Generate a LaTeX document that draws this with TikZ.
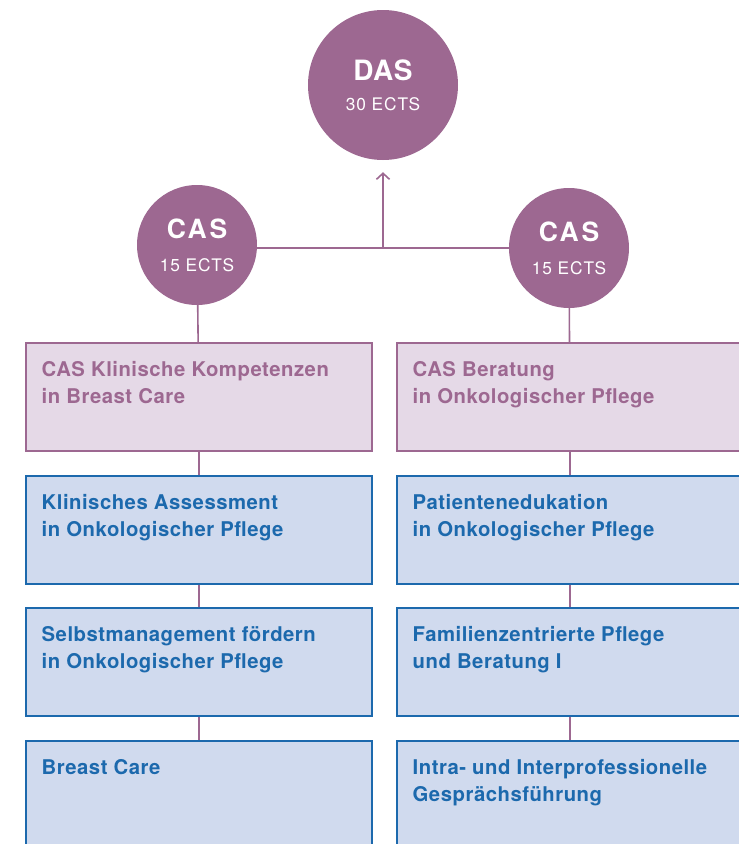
\documentclass[tikz,border=0pt]{standalone}
\usepackage{fontspec}
\setmainfont{TeX Gyre Heros}
\usetikzlibrary{positioning,arrows.meta}

\definecolor{casviolet}{HTML}{9D6891}
\definecolor{casrose}{HTML}{E5D9E7}
\definecolor{casblue}{HTML}{1C69AD}
\definecolor{modblue}{HTML}{D0DAEE}

\tikzset{
    ring/.style={circle, fill=casviolet, text=white, align=center, inner sep=0pt,
        font=\fontsize{17.3}{30}\selectfont\addfontfeature{LetterSpace=5}},
    link/.style={draw=casviolet, line width=1.6pt},
    box/.style={anchor=north west, line width=1.6pt, minimum width=346pt, minimum height=108pt},
    casbox/.style={box, draw=casviolet, fill=casrose},
    modbox/.style={box, draw=casblue, fill=modblue},
    boxtext/.style={anchor=north west, align=left, inner sep=0pt, xshift=16.5pt, yshift=-19.5pt,
        font=\bfseries\fontsize{20.3}{27}\selectfont\addfontfeature{LetterSpace=2.5}},
}

\begin{document}
\begin{tikzpicture}[x=1pt,y=-1pt]
    \useasboundingbox (0,0) rectangle (739,844);
    \clip (0,0) rectangle (739,844);

    % degree and certificates
    \node[ring, minimum size=150pt] (das) at (383,85) {{\bfseries\fontsize{28}{30}\selectfont\addfontfeature{LetterSpace=2} DAS}\\30 ECTS};
    \node[ring, minimum size=120pt, font=\fontsize{17.3}{33}\selectfont\addfontfeature{LetterSpace=5}] (casL) at (197,245) {{\bfseries\fontsize{26.5}{33}\selectfont\addfontfeature{LetterSpace=10} CAS}\\15 ECTS};
    \node[ring, minimum size=120pt, font=\fontsize{17.3}{33}\selectfont\addfontfeature{LetterSpace=5}] (casR) at (569,248) {{\bfseries\fontsize{26.5}{33}\selectfont\addfontfeature{LetterSpace=10} CAS}\\15 ECTS};

    % left column
    \node[casbox, label={[boxtext, text=casviolet]north west:CAS Klinische Kompetenzen\\in Breast Care}] (boxL1) at (25,342) {};
    \node[modbox, label={[boxtext, text=casblue]north west:Klinisches Assessment\\in Onkologischer Pflege}] (boxL2) at (25,475) {};
    \node[modbox, label={[boxtext, text=casblue]north west:Selbstmanagement fördern\\in Onkologischer Pflege}] (boxL3) at (25,607) {};
    \node[modbox, label={[boxtext, text=casblue]north west:Breast Care}] (boxL4) at (25,740) {};

    % right column
    \node[casbox, label={[boxtext, text=casviolet]north west:CAS Beratung\\in Onkologischer Pflege}] (boxR1) at (396,342) {};
    \node[modbox, label={[boxtext, text=casblue]north west:Patientenedukation\\in Onkologischer Pflege}] (boxR2) at (396,475) {};
    \node[modbox, label={[boxtext, text=casblue]north west:Familienzentrierte Pflege\\und Beratung I}] (boxR3) at (396,607) {};
    \node[modbox, label={[boxtext, text=casblue]north west:Intra- und Interprofessionelle\\Gesprächsführung}] (boxR4) at (396,740) {};

    % connectors
    \coordinate (hub) at (383,248);
    \draw[link] (casL.east |- hub) -- (casR.west |- hub);
    \draw[link, -{Straight Barb[length=6pt, width=13pt]}, shorten >=12pt] (hub) -- (das.south);
    \foreach \s in {L,R} {
        \draw[link] (cas\s) -- (box\s1);
        \foreach \a/\b in {1/2,2/3,3/4}
            \draw[link] (box\s\a) -- (box\s\b);
    }

\end{tikzpicture}
\end{document}
